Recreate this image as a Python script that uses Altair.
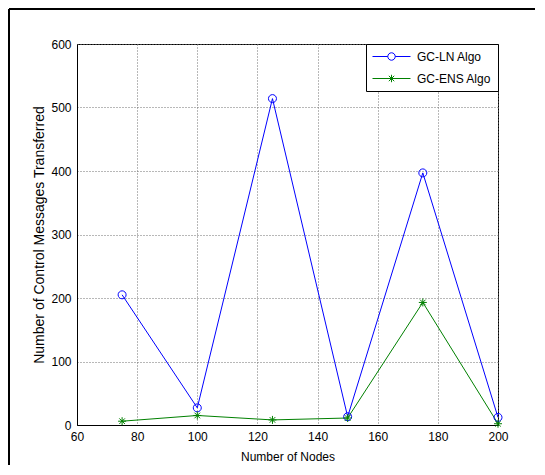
import altair as alt
import pandas as pd

nodes = [75, 100, 125, 150, 175, 200]
gc_ln = [205, 27, 514, 13, 397, 12]
gc_ens = [6, 15, 8, 11, 193, 2]
series_names = ["GC-LN Algo", "GC-ENS Algo"]
colors = ["#0000FF", "#008000"]
x_ticks = [60, 80, 100, 120, 140, 160, 180, 200]
y_ticks = [0, 100, 200, 300, 400, 500, 600]

df = pd.DataFrame({
    "nodes": nodes + nodes,
    "value": gc_ln + gc_ens,
    "series": [series_names[0]] * len(nodes) + [series_names[1]] * len(nodes),
})

circle = "M1,0A1,1 0 1 1 -1,0A1,1 0 1 1 1,0Z"
star = "M-1,0H1M0,-1V1M-0.7,-0.7L0.7,0.7M-0.7,0.7L0.7,-0.7"

# legend symbols: unit = 6px (symbolSize 144); line 38px long starting at symbol's left
c = 2.17
x0, x1 = -1, 5.33
r = 0.62
leg_circle = (f"M{x0},0H{c - r:.2f}M{c + r:.2f},0H{x1}"
              f"M{c + r:.2f},0A{r},{r} 0 1 1 {c - r:.2f},0A{r},{r} 0 1 1 {c + r:.2f},0")
a = 0.62
d = 0.45
leg_star = (f"M{x0},0H{x1}M{c},-{a}V{a}"
            f"M{c - d:.2f},-{d}L{c + d:.2f},{d}M{c - d:.2f},{d}L{c + d:.2f},-{d}")

font = "Liberation Sans"

x = alt.X("nodes:Q", scale=alt.Scale(domain=[60, 200], nice=False),
          axis=alt.Axis(values=x_ticks, title="Number of Nodes", titlePadding=9,
                        grid=True))
y = alt.Y("value:Q", scale=alt.Scale(domain=[0, 600], nice=False),
          axis=alt.Axis(values=y_ticks, title="Number of Control Messages Transferred",
                        titlePadding=4, titleFontSize=14, grid=True))

color_scale = alt.Scale(domain=series_names, range=colors)

base = alt.Chart(df)

lines = base.mark_line(strokeWidth=1).encode(
    x=x, y=y,
    color=alt.Color("series:N", scale=color_scale, legend=None),
)

points = base.mark_point(filled=False, size=64, strokeWidth=1, opacity=1).encode(
    x=x, y=y,
    color=alt.Color("series:N", scale=color_scale, legend=None),
    shape=alt.Shape("series:N", scale=alt.Scale(domain=series_names, range=[circle, star]),
                    legend=None),
)

legend_carrier = base.mark_point(filled=False, strokeWidth=1, opacity=0).encode(
    x=x, y=y,
    color=alt.Color("series:N", scale=color_scale,
                    legend=alt.Legend(title=None, symbolOpacity=1)),
    shape=alt.Shape("series:N", scale=alt.Scale(domain=series_names,
                                                 range=[leg_circle, leg_star]),
                    legend=alt.Legend(title=None, symbolOpacity=1)),
)

frame_df = pd.DataFrame({"k": [0]})
frame_left = alt.Chart(frame_df).mark_rule(color="black", strokeWidth=2).encode(
    x=alt.value(-68), y=alt.value(-35), y2=alt.value(425))
frame_top = alt.Chart(frame_df).mark_rule(color="black", strokeWidth=2).encode(
    y=alt.value(-35), x=alt.value(-68), x2=alt.value(460))

chart = alt.layer(lines, points, legend_carrier, frame_left, frame_top).resolve_scale(
    color="independent", shape="independent"
).properties(
    width=421, height=381,
    autosize=alt.AutoSizeParams(type="none"),
    padding={"left": 69, "top": 36, "right": 37, "bottom": 40},
).configure_view(
    stroke="black", strokeWidth=1
).configure_axis(
    domainColor="black", domainWidth=1,
    labelColor="black", labelFont=font, labelFontSize=12, labelPadding=6,
    labelFlush=False, labelOverlap=False,
    titleColor="black", titleFont=font, titleFontSize=12, titleFontWeight="normal",
    ticks=False,
    gridColor="#707070", gridDash=[1, 2], gridWidth=1, gridOpacity=1,
).configure_legend(
    orient="top-right", offset=0, padding=6,
    strokeColor="black", fillColor="white",
    labelFont=font, labelFontSize=12, labelColor="black", labelOffset=32,
    symbolSize=144, symbolStrokeWidth=1, rowPadding=9,
)

chart.save("out.html", embed_options={"renderer": "svg", "actions": False})
